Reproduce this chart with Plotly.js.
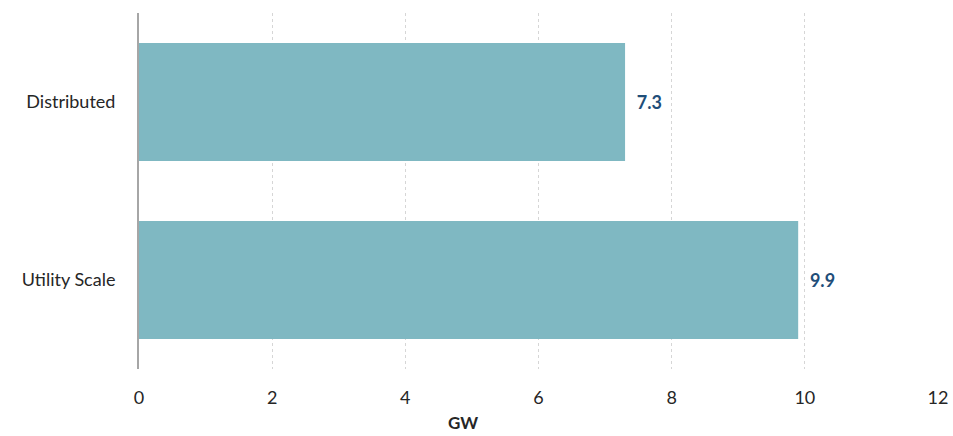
<!DOCTYPE html>
<html>
<head>
<meta charset="utf-8">
<script src="https://cdn.plot.ly/plotly-3.0.1.min.js"></script>
<style>html,body{margin:0;padding:0;background:#fff;}#chart{width:953px;height:436px;}</style>
</head>
<body>
<div id="chart"></div>
<script>
const categories = ["Utility Scale", "Distributed"];
const values = [9.9, 7.3];
const valueLabels = ["9.9", "7.3"];
const xTicks = [0, 2, 4, 6, 8, 10, 12];
const xTitle = "GW";

const FONT = "Lato, Open Sans, sans-serif";

const trace = {
  type: "bar",
  orientation: "h",
  y: categories,
  x: values,
  text: valueLabels.map(function (t) { return "\u00a0\u00a0" + t; }),
  textposition: "outside",
  cliponaxis: false,
  textfont: { family: FONT, size: 18, color: "#1f4e79", weight: 700 },
  marker: { color: "#7fb8c2" },
  hoverinfo: "skip"
};

const layout = {
  width: 953,
  height: 436,
  margin: { l: 139, r: 15, t: 13, b: 67 },
  paper_bgcolor: "#ffffff",
  plot_bgcolor: "#ffffff",
  showlegend: false,
  bargap: 0.337,
  font: { family: FONT, size: 18, color: "#262626" },
  xaxis: {
    range: [0, 12],
    tickvals: xTicks,
    ticktext: xTicks.map(String),
    showgrid: true,
    gridcolor: "#d6d6d6",
    griddash: "dot",
    gridwidth: 1,
    zeroline: false,
    showline: false,
    ticks: "",
    ticklabelstandoff: 16,
    tickfont: { family: FONT, size: 18, color: "#262626" },
    fixedrange: true
  },
  yaxis: {
    showline: true,
    linecolor: "#a6a6a6",
    linewidth: 2,
    showgrid: false,
    zeroline: false,
    ticks: "",
    ticklabelstandoff: 18,
    tickfont: { family: FONT, size: 18, color: "#262626" },
    fixedrange: true
  },
  annotations: [{
    text: "<b>" + xTitle + "</b>",
    xref: "paper", yref: "paper",
    x: 0.4055, y: 0,
    yshift: -66,
    xanchor: "center", yanchor: "bottom",
    showarrow: false,
    font: { family: FONT, size: 17, color: "#262626" }
  }]
};

Plotly.newPlot("chart", [trace], layout, { displayModeBar: false, staticPlot: true });
</script>
</body>
</html>
